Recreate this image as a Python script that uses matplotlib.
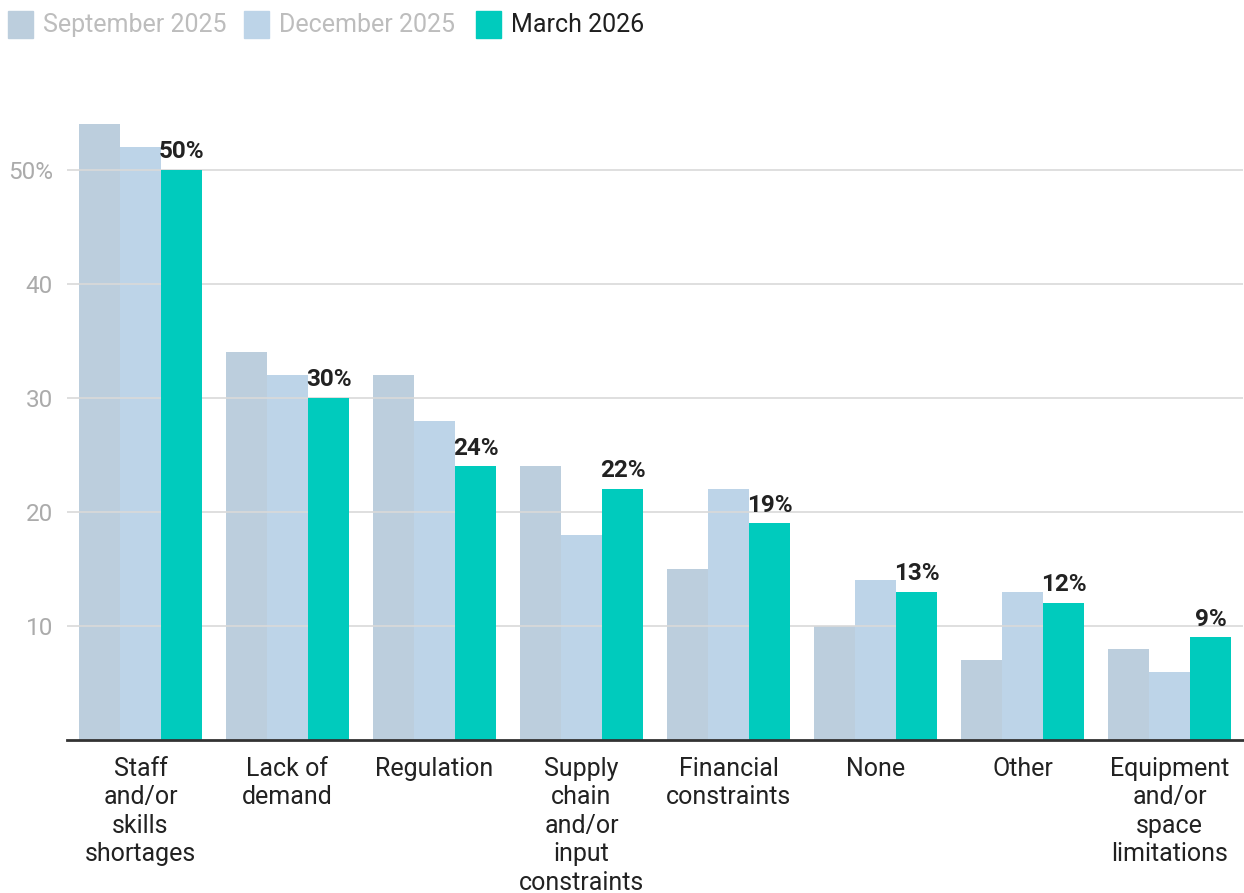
import matplotlib
matplotlib.use("Agg")
import matplotlib.pyplot as plt
import numpy as np
from matplotlib.patches import Rectangle

plt.rcParams['font.family'] = ['Roboto', 'DejaVu Sans']

categories = [
    "Staff\nand/or\nskills\nshortages",
    "Lack of\ndemand",
    "Regulation",
    "Supply\nchain\nand/or\ninput\nconstraints",
    "Financial\nconstraints",
    "None",
    "Other",
    "Equipment\nand/or\nspace\nlimitations",
]
series_names = ["September 2025", "December 2025", "March 2026"]
sep_2025 = [54, 34, 32, 24, 15, 10, 7, 8]
dec_2025 = [52, 32, 28, 18, 22, 14, 13, 6]
mar_2026 = [50, 30, 24, 22, 19, 13, 12, 9]
yticks = [10, 20, 30, 40, 50]
ytick_labels = ["10", "20", "30", "40", "50%"]

colors = ["#bccedd", "#bdd4e8", "#00cbbd"]
legend_text_colors = ["#bdbdbd", "#bdbdbd", "#1f1f1f"]

fig = plt.figure(figsize=(12.44, 8.93), dpi=100)
ax = fig.add_axes([67/1244, 1 - 740/893, 1176/1244, (740-101.6)/893])

x = np.arange(len(categories))
w = 0.281
series = [sep_2025, dec_2025, mar_2026]
zorders = [1, 1, 3]
for i, (vals, c, z) in enumerate(zip(series, colors, zorders)):
    ax.bar(x + (i - 1) * w, vals, width=w, color=c, zorder=z, linewidth=0)

for xi, v in zip(x, mar_2026):
    ax.text(xi + w, v + 0.6, f"{v}%", ha="center", va="bottom",
            fontsize=17.5, fontweight="bold", color="#222222", zorder=4)

ax.set_xlim(-0.5, len(categories) - 0.5)
ax.set_ylim(0, 56)
ax.set_yticks(yticks)
ax.set_yticklabels(ytick_labels)
ax.yaxis.grid(True, color="#d9d9d9", linewidth=1.2)
ax.set_axisbelow(False)
for gl in ax.get_ygridlines():
    gl.set_zorder(2)
ax.tick_params(axis="y", length=0, pad=10, labelsize=17.5, labelcolor="#ababab")
ax.set_xticks(x)
ax.set_xticklabels(categories, fontsize=18, color="#222222", linespacing=1.24, va="top")
ax.tick_params(axis="x", length=0, pad=12)
for s in ["top", "right", "left"]:
    ax.spines[s].set_visible(False)
ax.spines["bottom"].set_color("#333333")
ax.spines["bottom"].set_linewidth(2)
ax.spines["bottom"].set_zorder(5)

# legend row along the top edge
lx = [8, 244, 476]
for name, c, tc, px in zip(series_names, colors, legend_text_colors, lx):
    fig.patches.append(Rectangle((px / 1244, 1 - 38 / 893), 25 / 1244, 27 / 893,
                                 transform=fig.transFigure, color=c, figure=fig))
    fig.text((px + 35) / 1244, 1 - 25 / 893, name, fontsize=18, color=tc,
             va="center", ha="left")

fig.savefig("out.png", dpi=100, facecolor="white")
